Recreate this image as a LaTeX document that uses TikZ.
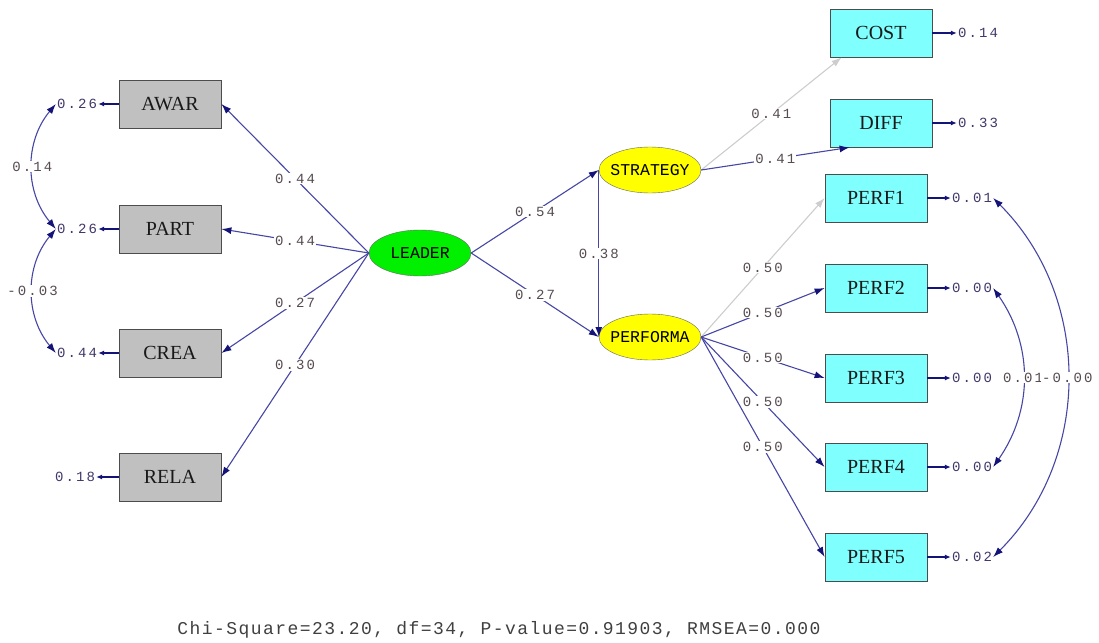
\documentclass[tikz,border=0pt]{standalone}
\usepackage{fontspec}
\setmainfont{Liberation Serif}
\newfontfamily\latfont{Liberation Mono}
\newfontfamily\valfont[LetterSpace=15]{Liberation Mono}
\newfontfamily\fitfont[LetterSpace=8]{Liberation Mono}
\usetikzlibrary{arrows.meta, positioning, shapes.geometric}

\definecolor{pathblue}{RGB}{70,70,165}
\definecolor{tipblue}{RGB}{20,20,120}
\definecolor{palegray}{RGB}{205,205,205}
\definecolor{boxgray}{RGB}{192,192,192}
\definecolor{boxcyan}{RGB}{128,255,255}
\definecolor{latgreen}{RGB}{0,240,0}
\definecolor{latyellow}{RGB}{255,255,0}
\definecolor{valtext}{RGB}{85,75,80}
\definecolor{errtext}{RGB}{65,55,105}

\begin{document}
\begin{tikzpicture}[
                x=1pt, y=-1pt,
                obs/.style={rectangle, draw=black!70, thick, minimum width=102pt, minimum height=48pt, inner sep=0pt, text=black!90, font=\fontsize{20}{20}\selectfont},
                left obs/.style={obs, fill=boxgray},
                right obs/.style={obs, fill=boxcyan},
                latent/.style={ellipse, draw=black!60, minimum width=102pt, minimum height=46pt, inner xsep=-5pt, inner ysep=0pt, text=black, font=\latfont\fontsize{16.5}{16.5}\selectfont},
                val/.style={fill=white, inner sep=1pt, text=valtext, font=\valfont\fontsize{14}{14}\selectfont},
                errval/.style={inner sep=1pt, text=errtext, font=\valfont\fontsize{14}{14}\selectfont},
                load/.style={draw=pathblue, line width=1.1pt, -{Latex[length=10pt,width=7pt,color=tipblue]}},
                weak/.style={draw=palegray, line width=1.1pt, -{Latex[length=10pt,width=7pt]}},
                err/.style={draw=tipblue, line width=1.2pt, -{Latex[length=6pt,width=5pt]}},
                cov/.style={draw=pathblue, line width=1.1pt, {Latex[length=10pt,width=7pt,color=tipblue]}-{Latex[length=10pt,width=7pt,color=tipblue]}}
]
    \useasboundingbox (0,0) rectangle (1099,642);

    % Indicators of LEADER
        \node[left obs] (AWAR) at (170,104) {AWAR};
        \node[left obs] (PART) at (170,229) {PART};
        \node[left obs] (CREA) at (170,353) {CREA};
        \node[left obs] (RELA) at (170,477) {RELA};

    % Latent variables
        \node[latent, fill=latgreen] (LEADER) at (420,253) {LEADER};
        \node[latent, fill=latyellow] (STRATEGY) at (650,170) {STRATEGY};
        \node[latent, fill=latyellow] (PERFORMA) at (650,337) {PERFORMA};

    % Indicators on the right
        \node[right obs] (COST) at (881,33) {COST};
        \node[right obs] (DIFF) at (881,123) {DIFF};
        \node[right obs] (PERF1) at (876,198) {PERF1};
        \node[right obs] (PERF2) at (876,288) {PERF2};
        \node[right obs] (PERF3) at (876,378) {PERF3};
        \node[right obs] (PERF4) at (876,467) {PERF4};
        \node[right obs] (PERF5) at (876,557) {PERF5};

    % Error variances
        \node[errval] (eAWAR) at (77,104) {0.26};
        \node[errval] (ePART) at (77,229) {0.26};
        \node[errval] (eCREA) at (77,353) {0.44};
        \node[errval] (eRELA) at (75,477) {0.18};
        \node[errval] (eCOST) at (978,33) {0.14};
        \node[errval] (eDIFF) at (978,123) {0.33};
        \node[errval] (ePERF1) at (972,198) {0.01};
        \node[errval] (ePERF2) at (972,288) {0.00};
        \node[errval] (ePERF3) at (972,378) {0.00};
        \node[errval] (ePERF4) at (972,467) {0.00};
        \node[errval] (ePERF5) at (972,557) {0.02};
        \foreach \v in {AWAR, PART, CREA, RELA}
            \draw[err] (\v.west) -- (e\v.east);
        \foreach \v in {COST, DIFF, PERF1, PERF2, PERF3, PERF4, PERF5}
            \draw[err] (\v.east) -- (e\v.west);

    % Loadings of LEADER
        \draw[load] (LEADER.west) -- node[val] {0.44} (AWAR.east);
        \draw[load] (LEADER.west) -- node[val] {0.44} (PART.east);
        \draw[load] (LEADER.west) -- node[val] {0.27} (CREA.east);
        \draw[load] (LEADER.west) -- node[val] {0.30} (RELA.east);

    % Structural paths
        \draw[load] (LEADER.east) -- node[val] {0.54} (STRATEGY.west);
        \draw[load] (LEADER.east) -- node[val] {0.27} (PERFORMA.west);
        \draw[load] (STRATEGY.west) -- node[val] {0.38} (PERFORMA.west);

    % Loadings on the right
        \draw[weak] (STRATEGY.east) -- node[val] {0.41} ([xshift=12pt]COST.south west);
        \draw[load] (STRATEGY.east) -- node[val] {0.41} ([xshift=20pt]DIFF.south west);
        \draw[weak] (PERFORMA.east) -- node[val] {0.50} (PERF1.west);
        \draw[load] (PERFORMA.east) -- node[val] {0.50} (PERF2.west);
        \draw[load] (PERFORMA.east) -- node[val] {0.50} (PERF3.west);
        \draw[load] (PERFORMA.east) -- node[val] {0.50} (PERF4.west);
        \draw[load] (PERFORMA.east) -- node[val] {0.50} (PERF5.west);

    % Error covariances
        \draw[cov] (eAWAR.west) to[bend right=40] node[val] {0.14} (ePART.west);
        \draw[cov] (ePART.west) to[bend right=40] node[val] {-0.03} (eCREA.west);
        \draw[cov] (ePERF2.east) to[bend left=35] node[val] {0.01} (ePERF4.east);
        \draw[cov] (ePERF1.east) to[bend left=45] node[val] {-0.00} (ePERF5.east);

    % Fit statistics
        \node[text=black!75, font=\fitfont\fontsize{18}{18}\selectfont] (fit) at (499,630) {Chi-Square=23.20, df=34, P-value=0.91903, RMSEA=0.000};
\end{tikzpicture}
\end{document}
